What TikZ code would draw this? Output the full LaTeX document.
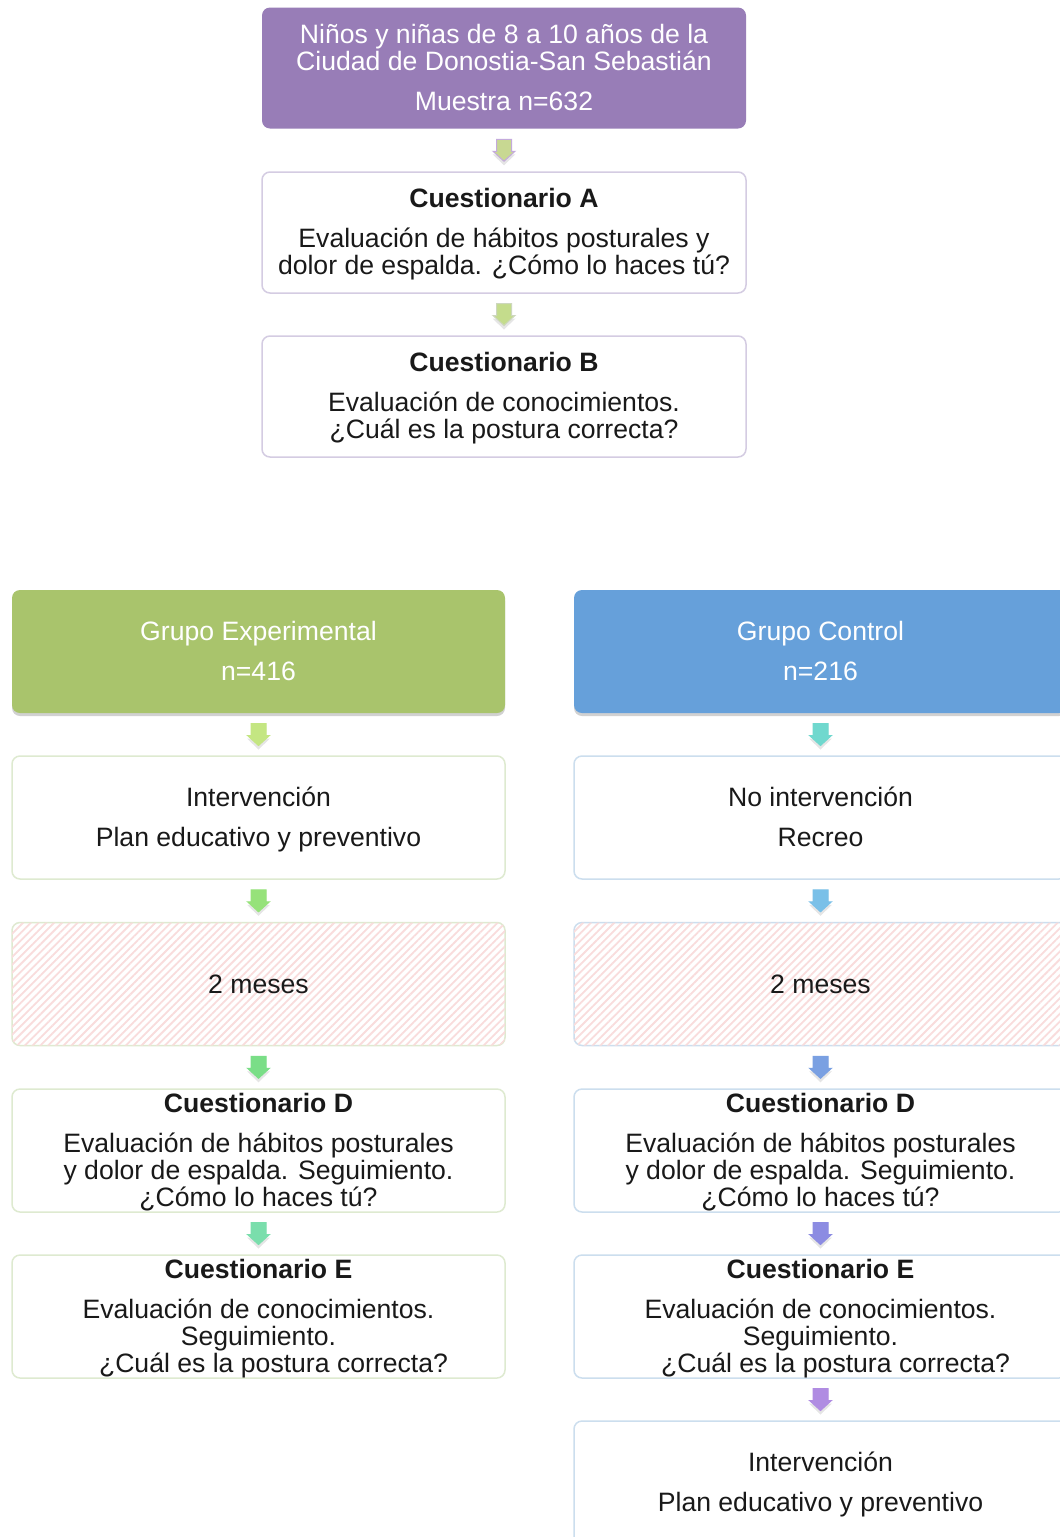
\documentclass[tikz,border=0pt]{standalone}
\usepackage{fontspec}
\setmainfont{Liberation Sans}
\usetikzlibrary{calc,shadows,patterns.meta}
\definecolor{topP}{RGB}{152,125,183}
\definecolor{grpG}{RGB}{169,196,108}
\definecolor{grpB}{RGB}{102,160,218}
\definecolor{bdP}{RGB}{212,204,226}
\definecolor{bdG}{RGB}{222,234,208}
\definecolor{bdB}{RGB}{204,222,238}
\definecolor{hatch}{RGB}{249,220,220}
\definecolor{txt}{RGB}{25,25,25}
\definecolor{a1}{RGB}{200,216,146}
\definecolor{a1o}{RGB}{196,170,220}
\definecolor{a2}{RGB}{196,220,140}
\definecolor{a2o}{RGB}{205,215,190}
\definecolor{l1}{RGB}{196,230,130}
\definecolor{l2}{RGB}{150,226,122}
\definecolor{l3}{RGB}{122,222,135}
\definecolor{l4}{RGB}{122,222,172}
\definecolor{r1}{RGB}{112,216,206}
\definecolor{r2}{RGB}{122,192,232}
\definecolor{r3}{RGB}{122,160,226}
\definecolor{r4}{RGB}{140,140,226}
\definecolor{r5}{RGB}{176,140,226}
\newcommand\fstr{\rule{0pt}{23pt}}
\newcommand\lstr{\rule[-5pt]{0pt}{5pt}}
\newcommand\barr[4]{%
  \coordinate (m) at ($(#1.south)!.5!(#2.north)$);
  \begin{scope}[shift={(m)}]
    \fill[black, opacity=.10] (-7.5,-8) -- (7.5,-8) -- (7.5,4) -- (11.5,4) -- (0,15) -- (-11.5,4) -- (-7.5,4) -- cycle;
    \filldraw[fill=#3, draw=#4, line width=1pt] (-7.5,-11) -- (7.5,-11) -- (7.5,1) -- (11,1) -- (0,11) -- (-11,1) -- (-7.5,1) -- cycle;
  \end{scope}}
\begin{document}
\begin{tikzpicture}[x=1pt,y=-1pt,
  box/.style={rectangle, rounded corners=8pt, align=center, inner sep=0pt,
    font=\fontsize{26.6}{27}\selectfont, text=txt, fill=white, line width=1.5pt},
  topw/.style={box, minimum width=484pt, minimum height=121pt, draw=bdP},
  colw/.style={box, minimum width=493pt, minimum height=123pt},
  grp/.style={colw, text=white, draw=none, drop shadow={shadow xshift=0pt, shadow yshift=-3pt, opacity=.18, fill=black}},
  hatchbox/.style={colw, postaction={pattern={Lines[angle=45,distance=5.5pt,line width=1.8pt]}, pattern color=hatch}}]
\clip (0,0) rectangle (1060,1537);
\fill[white] (0,0) rectangle (1060,1537);

\node[topw, fill=topP, draw=none, text=white] (top) at (504,68) {\fstr Niños y niñas de 8 a 10 años de la\\Ciudad de Donostia-San Sebastián\\[13pt]Muestra n=632\lstr};
\node[topw] (qa) at (504,232.5) {\fstr\textbf{Cuestionario A}\\[13pt]Evaluación de hábitos posturales y\\dolor de espalda. ¿Cómo lo haces tú?\lstr};
\node[topw] (qb) at (504,396.5) {\fstr\textbf{Cuestionario B}\\[13pt]Evaluación de conocimientos.\\¿Cuál es la postura correcta?\lstr};

\node[grp, fill=grpG] (ge) at (258.5,651.5) {\fstr Grupo Experimental\\[13pt]n=416\lstr};
\node[grp, fill=grpB] (gc) at (820.5,651.5) {\fstr Grupo Control\\[13pt]n=216\lstr};

\node[colw, draw=bdG] (ie) at (258.5,817.5) {\fstr Intervención\\[13pt]Plan educativo y preventivo\lstr};
\node[colw, draw=bdB] (ic) at (820.5,817.5) {\fstr No intervención\\[13pt]Recreo\lstr};

\node[hatchbox, draw=bdG] (me) at (258.5,984) {};
\node[font=\fontsize{26.6}{27}\selectfont, text=txt, inner sep=0pt] (met) at (me) {\fstr 2 meses\lstr};
\node[hatchbox, draw=bdB] (mc) at (820.5,984) {};
\node[font=\fontsize{26.6}{27}\selectfont, text=txt, inner sep=0pt] (mct) at (mc) {\fstr 2 meses\lstr};

\node[colw, draw=bdG] (de) at (258.5,1150.5) {\fstr\textbf{Cuestionario D}\\[13pt]Evaluación de hábitos posturales\\y dolor de espalda. Seguimiento.\\¿Cómo lo haces tú?\lstr};
\node[colw, draw=bdB] (dc) at (820.5,1150.5) {\fstr\textbf{Cuestionario D}\\[13pt]Evaluación de hábitos posturales\\y dolor de espalda. Seguimiento.\\¿Cómo lo haces tú?\lstr};

\node[colw, draw=bdG] (ee) at (258.5,1316.5) {\fstr\textbf{Cuestionario E}\\[13pt]Evaluación de conocimientos.\\Seguimiento.\\\hspace*{30pt}¿Cuál es la postura correcta?\lstr};
\node[colw, draw=bdB] (ec) at (820.5,1316.5) {\fstr\textbf{Cuestionario E}\\[13pt]Evaluación de conocimientos.\\Seguimiento.\\\hspace*{30pt}¿Cuál es la postura correcta?\lstr};

\node[colw, draw=bdB, minimum height=124pt] (fc) at (820.5,1483) {\fstr Intervención\\[13pt]Plan educativo y preventivo\lstr};

\barr{top}{qa}{a1}{a1o}
\barr{qa}{qb}{a2}{a2o}

\barr{ge}{ie}{l1}{l1}
\barr{ie}{me}{l2}{l2}
\barr{me}{de}{l3}{l3}
\barr{de}{ee}{l4}{l4}

\barr{gc}{ic}{r1}{r1}
\barr{ic}{mc}{r2}{r2}
\barr{mc}{dc}{r3}{r3}
\barr{dc}{ec}{r4}{r4}
\barr{ec}{fc}{r5}{r5}
\end{tikzpicture}
\end{document}
